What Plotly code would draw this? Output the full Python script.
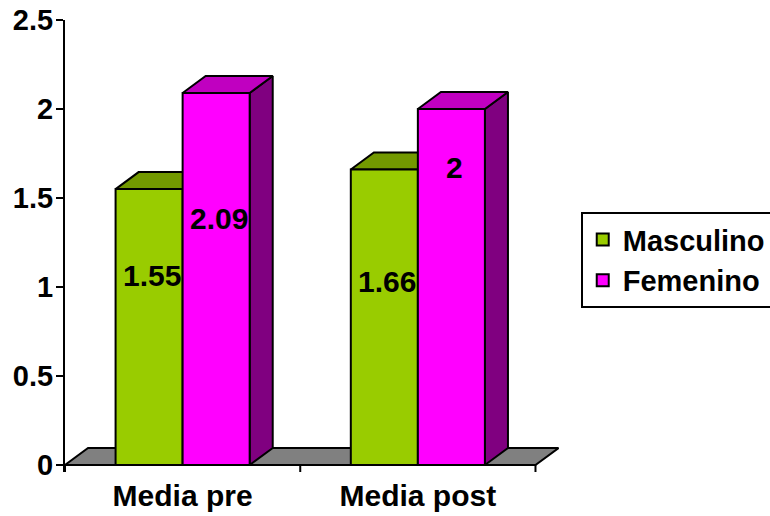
import plotly.graph_objects as go

# ---- data ----
categories = ["Media pre", "Media post"]
series_names = ["Masculino", "Femenino"]
masculino = [1.55, 1.66]
femenino = [2.09, 2.00]
y_tick_vals = [0, 0.5, 1, 1.5, 2, 2.5]
y_tick_text = ["0", "0.5", "1", "1.5", "2", "2.5"]

# ---- style / geometry ----
front_col = ["#99CC00", "#FF00FF"]
top_col = ["#739900", "#C000C0"]
side_col = ["#4D6600", "#800080"]
floor_col = "#808080"
BAR_W = 0.285
OFFSETS = [-0.285, 0.0]
DX, DY = 0.098, 0.0955          # depth of the pseudo-3D extrusion (data units)
X_RANGE = [-0.5, 1.6]
Y_RANGE = [-0.0393, 2.5]
LABEL_Y = [[1.067, 1.03], [1.385, 1.671]]   # vertical placement of value labels
LABEL_DX = 0.012


def font(size):
    return dict(family="Arial, Liberation Sans", size=size, color="black", weight="bold")


EDGE = dict(color="black", width=2)

values = [masculino, femenino]
n_cat = len(categories)
x_lo, x_hi = -0.5, n_cat - 0.5

fig = go.Figure()

# floor plate
fig.add_trace(go.Scatter(
    x=[x_lo, x_lo + DX, x_hi + DX, x_hi, x_lo],
    y=[0, DY, DY, 0, 0],
    fill="toself", fillcolor=floor_col, mode="lines", line=EDGE,
    showlegend=False, hoverinfo="skip", xaxis="x", yaxis="y"))

# side and top faces of every bar (main layer, below the front faces)
for ci in range(n_cat):
    for si, vals in enumerate(values):
        v = vals[ci]
        x0 = ci + OFFSETS[si]
        x1 = x0 + BAR_W
        fig.add_trace(go.Scatter(
            x=[x1, x1 + DX, x1 + DX, x1, x1],
            y=[0, DY, v + DY, v, 0],
            fill="toself", fillcolor=side_col[si], mode="lines", line=EDGE,
            showlegend=False, hoverinfo="skip", xaxis="x", yaxis="y"))
        fig.add_trace(go.Scatter(
            x=[x0, x0 + DX, x1 + DX, x1, x0],
            y=[v, v + DY, v + DY, v, v],
            fill="toself", fillcolor=top_col[si], mode="lines", line=EDGE,
            showlegend=False, hoverinfo="skip", xaxis="x", yaxis="y"))

# front faces as real bars on an overlaid axis pair so they sit on top
for si, (name, vals) in enumerate(zip(series_names, values)):
    fig.add_trace(go.Bar(
        x=list(range(n_cat)), y=vals, name=name,
        width=BAR_W, offset=OFFSETS[si],
        marker=dict(color=front_col[si], line=EDGE),
        legendgroup=name, xaxis="x2", yaxis="y2"))

# value labels
for si, vals in enumerate(values):
    for ci, v in enumerate(vals):
        fig.add_annotation(
            x=ci + OFFSETS[si] + BAR_W / 2 + LABEL_DX, y=LABEL_Y[si][ci],
            xref="x", yref="y", text=f"{v:g}", showarrow=False, font=font(30))

# x axis baseline and category boundary ticks
shapes = [dict(type="line", xref="x", yref="y", x0=x_lo, x1=x_hi, y0=0, y1=0,
               line=EDGE, layer="above")]
for b in [x_lo + k for k in range(n_cat + 1)]:
    shapes.append(dict(type="line", xref="x", yref="y", x0=b, x1=b,
                       y0=0, y1=Y_RANGE[0], line=EDGE, layer="above"))

fig.update_layout(
    width=770, height=516,
    margin=dict(l=65, r=211, t=20, b=44, autoexpand=False),
    paper_bgcolor="white", plot_bgcolor="white",
    barmode="overlay",
    shapes=shapes,
    showlegend=True,
    legend=dict(x=1.044, y=0.575, xanchor="left", yanchor="top",
                font=font(29), bordercolor="black", borderwidth=2,
                bgcolor="white", tracegroupgap=9, traceorder="normal"),
    xaxis=dict(range=X_RANGE, showgrid=False, zeroline=False, showline=False,
               showticklabels=False, ticks=""),
    yaxis=dict(range=Y_RANGE, tickvals=y_tick_vals, ticktext=y_tick_text,
               showgrid=False, zeroline=False, showline=True, linecolor="black",
               linewidth=2, ticks="outside", ticklen=7, tickwidth=2,
               tickcolor="black", tickfont=font(29), ticklabelstandoff=-3),
    xaxis2=dict(range=X_RANGE, overlaying="x", anchor="y2", side="bottom",
                tickvals=list(range(n_cat)), ticktext=categories, ticks="",
                showgrid=False, zeroline=False, showline=False, tickfont=font(30),
                ticklabelstandoff=3),
    yaxis2=dict(range=Y_RANGE, overlaying="y", visible=False),
)

fig.write_html("out.html")
